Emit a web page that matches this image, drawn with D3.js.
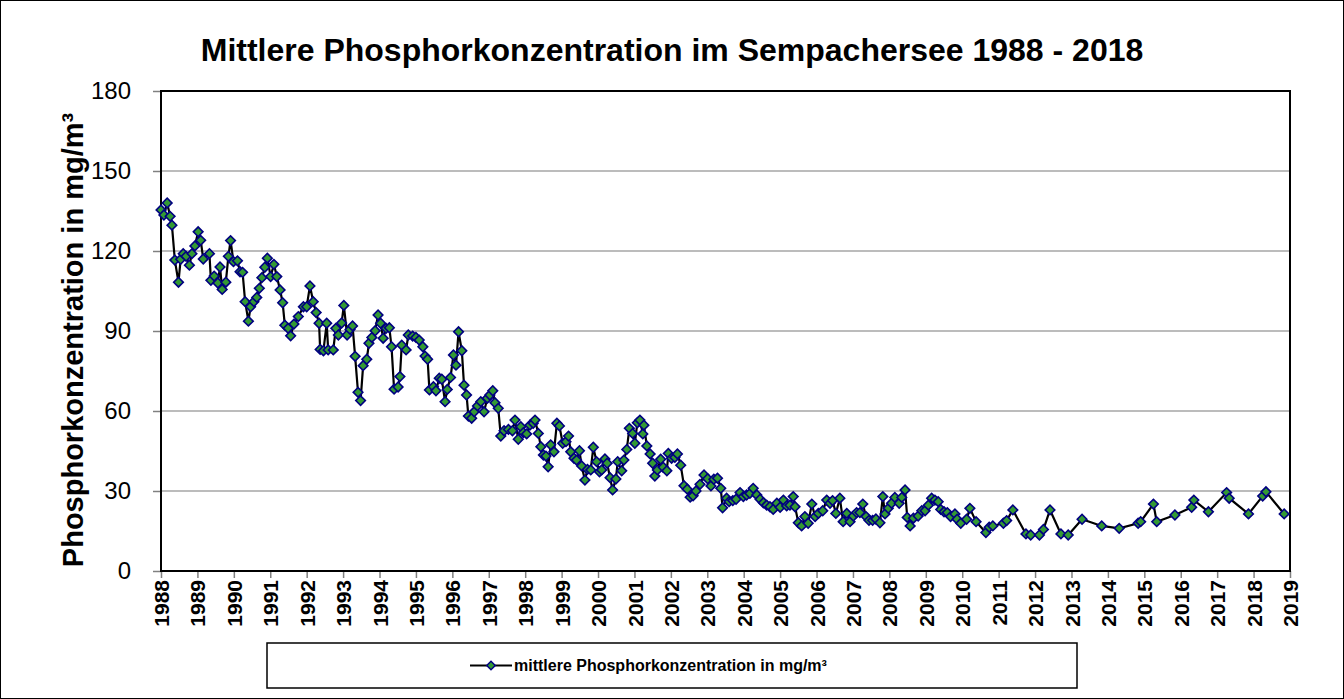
<!DOCTYPE html>
<html><head><meta charset="utf-8">
<script src="https://cdn.jsdelivr.net/npm/d3@7"></script>
<style>body{margin:0;background:#fff}svg{display:block}text{font-family:"Liberation Sans",Arial,sans-serif}</style>
</head><body><svg id="c" width="1344" height="699"></svg>
<script>
const title = "Mittlere Phosphorkonzentration im Sempachersee 1988 - 2018";
const yTitle = "Phosphorkonzentration in mg/m³";
const legendLabel = "mittlere Phosphorkonzentration in mg/m³";
const yTicks = [0, 30, 60, 90, 120, 150, 180];
const xTicks = d3.range(1988, 2020);
const years = [1988.00,1988.08,1988.17,1988.25,1988.30,1988.38,1988.48,1988.54,1988.61,1988.69,
1988.78,1988.85,1988.93,1989.02,1989.09,1989.16,1989.33,1989.37,1989.46,1989.56,
1989.62,1989.68,1989.78,1989.85,1989.91,1989.99,1990.10,1990.17,1990.24,1990.31,
1990.40,1990.46,1990.55,1990.63,1990.70,1990.77,1990.85,1990.92,1991.01,1991.10,
1991.18,1991.27,1991.34,1991.40,1991.49,1991.56,1991.65,1991.77,1991.91,1992.00,
1992.09,1992.18,1992.26,1992.34,1992.37,1992.46,1992.55,1992.59,1992.73,1992.80,
1992.87,1992.96,1993.02,1993.11,1993.19,1993.26,1993.33,1993.41,1993.48,1993.55,
1993.65,1993.71,1993.79,1993.88,1993.96,1994.03,1994.10,1994.18,1994.27,1994.33,
1994.40,1994.51,1994.56,1994.61,1994.73,1994.79,1994.91,1995.00,1995.09,1995.19,
1995.25,1995.32,1995.37,1995.48,1995.55,1995.64,1995.71,1995.80,1995.86,1995.95,
1996.03,1996.10,1996.17,1996.26,1996.32,1996.39,1996.44,1996.53,1996.60,1996.69,
1996.78,1996.87,1996.96,1997.03,1997.11,1997.17,1997.26,1997.33,1997.42,1997.54,
1997.65,1997.72,1997.81,1997.88,1997.95,1998.04,1998.13,1998.22,1998.27,1998.36,
1998.43,1998.50,1998.57,1998.63,1998.70,1998.79,1998.87,1998.94,1999.03,1999.12,
1999.19,1999.25,1999.34,1999.41,1999.49,1999.55,1999.64,1999.71,1999.80,1999.87,
1999.96,2000.04,2000.10,2000.19,2000.25,2000.33,2000.40,2000.49,2000.54,2000.65,
2000.71,2000.79,2000.86,2000.95,2001.01,2001.08,2001.15,2001.23,2001.26,2001.34,
2001.43,2001.50,2001.56,2001.63,2001.72,2001.79,2001.89,2001.93,2002.02,2002.11,
2002.18,2002.27,2002.36,2002.45,2002.53,2002.61,2002.69,2002.80,2002.91,2003.01,
2003.10,2003.18,2003.28,2003.37,2003.42,2003.53,2003.60,2003.70,2003.79,2003.90,
2003.99,2004.08,2004.17,2004.26,2004.36,2004.45,2004.54,2004.63,2004.72,2004.81,
2004.91,2005.00,2005.09,2005.18,2005.27,2005.36,2005.41,2005.50,2005.59,2005.68,
2005.77,2005.87,2005.96,2006.05,2006.17,2006.28,2006.37,2006.44,2006.53,2006.64,
2006.73,2006.83,2006.92,2007.01,2007.10,2007.19,2007.27,2007.36,2007.44,2007.54,
2007.63,2007.74,2007.82,2007.88,2007.97,2008.06,2008.15,2008.27,2008.34,2008.43,
2008.49,2008.57,2008.66,2008.79,2008.89,2008.98,2009.07,2009.16,2009.25,2009.34,
2009.41,2009.50,2009.59,2009.68,2009.80,2009.86,2009.96,2010.12,2010.21,2010.38,
2010.65,2010.74,2010.84,2011.13,2011.22,2011.39,2011.75,2011.88,2012.12,2012.23,
2012.41,2012.71,2012.91,2013.29,2013.83,2014.31,2014.83,2014.90,2015.25,2015.34,
2015.84,2016.30,2016.36,2016.76,2017.26,2017.33,2017.86,2018.25,2018.34,2018.84];
const values = [135.4,133.5,138,133,129.7,116.6,108.3,116.9,119,118,
114.7,119,121.9,127.2,124,117,119,109,110.6,108,
114,105.6,108.3,118,123.9,116,116.3,112.2,112,101,
93.7,99.1,101,102.6,106,110,113.9,117.3,110.4,115,
110.4,105.4,100.6,92.2,91,88.2,92.6,95.4,99.1,99.1,
106.9,101,96.9,92.9,83.1,82.6,92.9,82.9,82.9,91,
88.5,93,99.6,88.5,90.6,91.9,80.5,67,63.9,77,
79.4,85.4,87.6,90.1,96,92.9,87.3,91,91.2,84.1,
68.2,69,72.9,84.7,82.9,88.5,88.1,87.6,86.6,84.1,
80.6,79.4,67.9,69.1,67.6,72.3,71.9,63.5,68.1,72.6,
81,77.2,89.7,82.6,69.7,66,58.1,57.3,59.7,61.9,
63.5,59.7,64.8,66,67.6,63.1,61,50.6,52.6,53.1,
52.6,56.6,49.4,54.1,51.9,51.4,54.7,55.4,56.6,51.6,
46.6,43.5,43.1,39.1,47.3,44.7,55.4,54.4,47.9,48.5,
50.6,44.7,42.3,41.6,45.1,39.4,34.1,38.1,37.9,46.4,
41,37.2,37.9,42,40.4,35,30.4,34.5,41,37.6,
41.6,45.6,53.5,51.6,47.9,55.6,56.6,51.4,54.7,46.9,
43.9,40.4,35.6,37.9,41.9,38.9,37.6,44.1,42.3,42.6,
43.9,39.7,32,30.7,27.7,28.2,30,32.5,36,34.6,
31.9,34.4,34.8,31,23.7,27.3,26,26.4,26.9,29.4,
27.9,28.5,29.1,31,28.5,26.9,25.6,24.7,24.1,23.1,
25.4,23.9,26.6,24.4,24.7,27.9,24.1,18.1,16.9,20.4,
17.9,25.1,20.4,21.6,22.6,26.6,25.4,26.4,21.6,27.3,
18.5,21.6,18.5,20.6,21.9,21.9,25.1,20.4,19,19,
19.5,18.1,27.9,21.4,23.5,25.4,27.6,25.4,27.6,30.4,
20.1,16.9,19.8,20.6,22.6,22.6,24.7,27.3,26.6,26,
23.1,22.2,21.9,20.4,21.4,19.4,17.9,19.4,23.5,18.5,
14.4,16.4,16.9,17.9,18.9,22.9,13.9,13.5,13.5,15.6,
22.9,13.9,13.5,19.4,16.9,16,17.9,18.5,25.1,18.5,
21,23.9,26.6,22.2,29.4,27.3,21.4,28.1,29.7,21.4];

const data = years.map((t, i) => ({t, v: values[i]}));
const W = 1344, H = 699;
const L = 161, R = 1290, T = 91, B = 571;
const x = d3.scaleLinear().domain([1988, 2019]).range([L, R]);
const y = d3.scaleLinear().domain([0, 180]).range([B, T]);
const svg = d3.select("#c");
const FONT = '"Liberation Sans", Arial, sans-serif';

svg.append("rect").attr("x", 0.5).attr("y", 0.5).attr("width", W - 1).attr("height", H - 1)
  .attr("fill", "#fff").attr("stroke", "#000").attr("stroke-width", 1);

// title
svg.append("text").attr("x", 672).attr("y", 61).attr("text-anchor", "middle")
  .attr("font-size", 32).attr("font-weight", "bold").attr("font-family", FONT).text(title);

// gridlines
svg.append("g").selectAll("line").data(yTicks.filter(v => v > 0 && v < 180)).join("line")
  .attr("x1", L).attr("x2", R).attr("y1", d => y(d)).attr("y2", d => y(d))
  .attr("stroke", "#a6a6a6").attr("stroke-width", 1.5);

// y axis
const ya = svg.append("g").attr("transform", `translate(${L},0)`)
  .call(d3.axisLeft(y).tickValues(yTicks).tickSize(8).tickPadding(22));
ya.select(".domain").remove();
ya.selectAll(".tick line").attr("stroke", "#808080").attr("stroke-width", 1.5);
ya.selectAll(".tick text").attr("font-size", 24).attr("font-family", FONT).attr("fill", "#000");

// x axis
const xa = svg.append("g").attr("transform", `translate(0,${B})`)
  .call(d3.axisBottom(x).tickValues(xTicks).tickFormat(d3.format("d")).tickSize(7));
xa.select(".domain").remove();
xa.selectAll(".tick line").attr("stroke", "#808080").attr("stroke-width", 1.5);
xa.selectAll(".tick text").attr("font-size", 21).attr("font-weight", "bold").attr("font-family", FONT)
  .attr("fill", "#000").attr("text-anchor", "end").attr("transform", "rotate(-90)")
  .attr("x", -9).attr("y", 0).attr("dy", "0.36em");

// plot frame
svg.append("rect").attr("x", L).attr("y", T).attr("width", R - L).attr("height", B - T)
  .attr("fill", "none").attr("stroke", "#000").attr("stroke-width", 2);

// y title
svg.append("text").attr("transform", `translate(83,${(T + B) / 2 + 9}) rotate(-90)`)
  .attr("text-anchor", "middle").attr("font-size", 29).attr("font-weight", "bold")
  .attr("font-family", FONT).text(yTitle);

// series
const line = d3.line().x(d => x(d.t)).y(d => y(d.v));
svg.append("path").datum(data).attr("d", line).attr("fill", "none")
  .attr("stroke", "#000").attr("stroke-width", 2.2);
const diamond = d3.symbol(d3.symbolSquare, 46);
svg.append("g").selectAll("path").data(data).join("path")
  .attr("d", diamond)
  .attr("transform", d => `translate(${x(d.t)},${y(d.v)}) rotate(45)`)
  .attr("fill", "#339933").attr("stroke", "#000080").attr("stroke-width", 1.6);

// legend
const lg = svg.append("g");
lg.append("rect").attr("x", 267).attr("y", 643).attr("width", 810).attr("height", 45)
  .attr("fill", "#fff").attr("stroke", "#000").attr("stroke-width", 1.5);
lg.append("line").attr("x1", 470).attr("x2", 512).attr("y1", 665.5).attr("y2", 665.5)
  .attr("stroke", "#000").attr("stroke-width", 2.2);
lg.append("path").attr("d", d3.symbol(d3.symbolSquare, 36)).attr("transform", "translate(491,665.5) rotate(45)")
  .attr("fill", "#339933").attr("stroke", "#000080").attr("stroke-width", 1.5);
lg.append("text").attr("x", 514).attr("y", 671).attr("font-size", 16).attr("font-weight", "bold")
  .attr("font-family", FONT).text(legendLabel);
</script></body></html>
